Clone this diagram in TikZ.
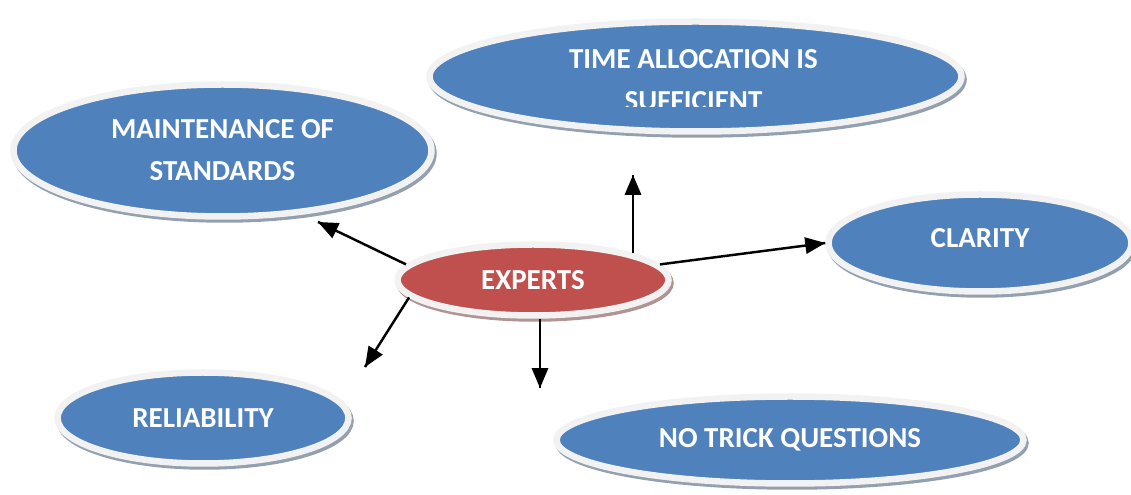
\documentclass[tikz,border=0pt]{standalone}
\usepackage{fontspec}
\setmainfont{Carlito}
\usepackage{tikz}
\usetikzlibrary{arrows}
\usetikzlibrary{decorations.markings}
\usetikzlibrary{shapes.geometric}
\usetikzlibrary{shadows}
\definecolor{bubbleblue}{HTML}{4F81BD}
\definecolor{bubblered}{HTML}{C0504D}
\definecolor{rim}{HTML}{F2F2F2}
\tikzset{pointer/.style = {line width=1.4pt,
                           decoration={markings,
                                       mark=at position 1 with {\arrow[scale=1.1]{triangle 45}}},
                           postaction={decorate}}}
\tikzset{bubble/.style = {ellipse, draw=rim, line width=0.13cm, inner sep=0pt, fill=#1,
                          drop shadow={shadow xshift=0.04cm, shadow yshift=-0.06cm, opacity=1,
                                       fill=#1!35!gray!75!white, draw=#1!35!gray!75!white, line width=0.13cm}},
         bubble/.default=bubbleblue}
\tikzset{caption/.style = {text=white, align=center, font=\bfseries\fontsize{16.5}{24}\selectfont}}

\begin{document}
\begin{tikzpicture}
      \useasboundingbox (0, 0) rectangle (22.62, 9.9);

      \node [bubble, minimum width=10.64cm, minimum height=2.2cm] (time) at (13.91, 8.37) {};
      \begin{scope}
        \clip (8, 7.76) rectangle (20, 9.9);
        \node [caption] at (13.87, 8.3) {TIME ALLOCATION IS\\SUFFICIENT};
      \end{scope}
      \node [bubble, caption, minimum width=8.36cm, minimum height=2.64cm] (maint) at (4.45, 6.89) {MAINTENANCE OF\\STANDARDS};
      \node [bubble, minimum width=6.06cm, minimum height=1.94cm] (clarity) at (19.6, 5.04) {};
      \node [caption] at (19.6, 5.14) {CLARITY};
      \node [bubble=bubblered, caption, minimum width=5.42cm, minimum height=1.42cm] (experts) at (10.66, 4.3) {EXPERTS};
      \node [bubble, caption, minimum width=5.82cm, minimum height=1.82cm] (reliab) at (4.06, 1.54) {RELIABILITY};
      \node [bubble, caption, minimum width=9.34cm, minimum height=1.74cm] (trick) at (15.8, 1.1) {NO TRICK QUESTIONS};

      \coordinate (tipMaint) at (6.36, 5.46);
      \coordinate (tipTime) at (12.66, 6.4);
      \coordinate (tipReliab) at (7.3, 2.56);
      \coordinate (tipTrick) at (10.8, 2.14);

      \draw [pointer] (experts.173) -- (tipMaint);
      \draw [pointer] (tipTime |- experts.15) -- (tipTime);
      \draw [pointer] (experts.7) -- (clarity.west);
      \draw [pointer] (experts.188) -- (tipReliab);
      \draw [pointer] (tipTrick |- experts.south) -- (tipTrick);
    \end{tikzpicture}
\end{document}
